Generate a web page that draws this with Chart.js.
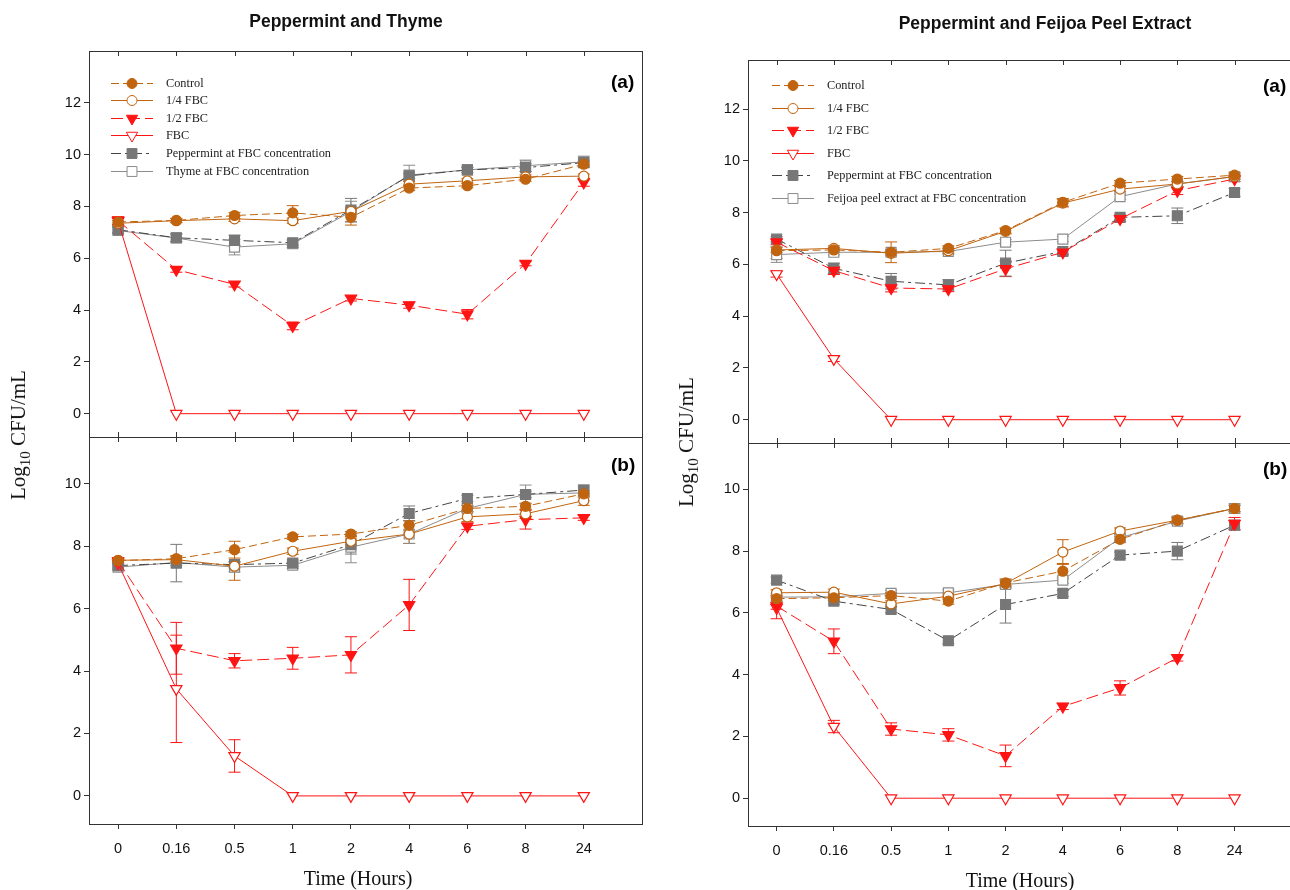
<!DOCTYPE html>
<html>
<head>
<meta charset="utf-8">
<script src="https://cdn.jsdelivr.net/npm/chart.js@4.4.0/dist/chart.umd.min.js"></script>
<style>
  html, body { margin: 0; padding: 0; background: #fff; width: 1290px; height: 890px; overflow: hidden; position: relative; }
  canvas { position: absolute; left: 0; top: 0; }
  .title { position: absolute; font: bold 17.5px "Liberation Sans", Arial, sans-serif; color: #111; white-space: nowrap; transform: translate(-50%, -50%); }
  .xtitle { position: absolute; font: 20px "Liberation Serif", serif; color: #111; white-space: nowrap; transform: translate(-50%, -50%); }
  .ytitle { position: absolute; font: 21px "Liberation Serif", serif; color: #111; white-space: nowrap; transform: translate(-50%, -50%) rotate(-90deg); }
  .ytitle sub { font-size: 15px; vertical-align: -5px; }
  .tag { position: absolute; font: bold 19px "Liberation Sans", Arial, sans-serif; color: #000; white-space: nowrap; transform: translateY(-50%); }
</style>
</head>
<body>
<canvas id="thymeA" width="1300" height="890"></canvas>
<canvas id="thymeB" width="1300" height="890"></canvas>
<canvas id="feijoaA" width="1300" height="890"></canvas>
<canvas id="feijoaB" width="1300" height="890"></canvas>

<div class="title" style="left:346px; top:21px;">Peppermint and Thyme</div>
<div class="title" style="left:1045px; top:23px;">Peppermint and Feijoa Peel Extract</div>
<div class="xtitle" style="left:358px; top:878px;">Time (Hours)</div>
<div class="xtitle" style="left:1020px; top:880px;">Time (Hours)</div>
<div class="ytitle" style="left:20px; top:435px;">Log<sub>10</sub> CFU/mL</div>
<div class="ytitle" style="left:688px; top:442px;">Log<sub>10</sub> CFU/mL</div>
<div class="tag" style="left:611px; top:82px;">(a)</div>
<div class="tag" style="left:611px; top:465px;">(b)</div>
<div class="tag" style="left:1263px; top:86px;">(a)</div>
<div class="tag" style="left:1263px; top:469px;">(b)</div>

<script>
const timeLabels = ["0", "0.16", "0.5", "1", "2", "4", "6", "8", "24"];
const yTicksTop = [0, 2, 4, 6, 8, 10, 12];
const yTicksBottom = [0, 2, 4, 6, 8, 10];

const labelsThyme = ["Control", "1/4 FBC", "1/2 FBC", "FBC", "Peppermint at FBC concentration", "Thyme at FBC concentration"];
const labelsFeijoa = ["Control", "1/4 FBC", "1/2 FBC", "FBC", "Peppermint at FBC concentration", "Feijoa peel extract at FBC concentration"];

// Peppermint and Thyme (a)
const thymeA_control = [7.40, 7.46, 7.65, 7.75, 7.58, 8.71, 8.80, 9.05, 9.63];
const thymeA_quarter = [7.35, 7.45, 7.52, 7.45, 7.81, 8.86, 8.99, 9.14, 9.17];
const thymeA_half = [7.45, 5.56, 4.99, 3.39, 4.45, 4.19, 3.84, 5.79, 8.93];
const thymeA_fbc = [7.43, 0, 0, 0, 0, 0, 0, 0, 0];
const thymeA_pep = [7.10, 6.79, 6.69, 6.60, 7.86, 9.18, 9.41, 9.50, 9.69];
const thymeA_oil = [7.07, 6.78, 6.43, 6.56, 7.80, 9.21, 9.41, 9.57, 9.72];
const thymeA_controlErr = [0.2, 0.08, 0.12, 0.28, 0.3, 0.1, 0.08, 0.08, 0.1];
const thymeA_quarterErr = [0.1, 0.08, 0.1, 0.1, 0.1, 0.1, 0.08, 0.08, 0.08];
const thymeA_halfErr = [0.15, 0.1, 0.1, 0.15, 0.1, 0.12, 0.18, 0.08, 0.15];
const thymeA_fbcErr = [0.12, 0, 0, 0, 0, 0, 0, 0, 0];
const thymeA_pepErr = [0.1, 0.15, 0.2, 0.1, 0.45, 0.1, 0.1, 0.15, 0.1];
const thymeA_oilErr = [0.12, 0.15, 0.3, 0.15, 0.4, 0.38, 0.1, 0.22, 0.22];

// Peppermint and Thyme (b)
const thymeB_control = [7.54, 7.60, 7.89, 8.30, 8.39, 8.67, 9.21, 9.28, 9.68];
const thymeB_quarter = [7.55, 7.57, 7.36, 7.84, 8.16, 8.39, 8.94, 9.04, 9.46];
const thymeB_half = [7.52, 4.73, 4.33, 4.41, 4.52, 6.12, 8.64, 8.85, 8.91];
const thymeB_fbc = [7.45, 3.43, 1.28, 0, 0, 0, 0, 0, 0];
const thymeB_pep = [7.38, 7.46, 7.41, 7.46, 8.05, 9.05, 9.53, 9.66, 9.80];
const thymeB_oil = [7.33, 7.48, 7.33, 7.39, 7.97, 8.39, 9.21, 9.66, 9.71];
const thymeB_controlErr = [0.08, 0.1, 0.27, 0.08, 0.08, 0.15, 0.1, 0.1, 0.1];
const thymeB_quarterErr = [0.08, 0.1, 0.45, 0.1, 0.1, 0.3, 0.15, 0.15, 0.15];
const thymeB_halfErr = [0.08, 0.83, 0.23, 0.35, 0.58, 0.82, 0.1, 0.3, 0.08];
const thymeB_fbcErr = [0.08, 1.72, 0.52, 0, 0, 0, 0, 0, 0];
const thymeB_pepErr = [0.08, 0.6, 0.1, 0.1, 0.3, 0.24, 0.1, 0.1, 0.1];
const thymeB_oilErr = [0.08, 0.1, 0.15, 0.1, 0.5, 0.3, 0.1, 0.3, 0.25];

// Peppermint and Feijoa Peel Extract (a)
const feijoaA_control = [6.53, 6.56, 6.47, 6.62, 7.31, 8.40, 9.14, 9.30, 9.45];
const feijoaA_quarter = [6.56, 6.62, 6.43, 6.53, 7.28, 8.37, 8.91, 9.11, 9.40];
const feijoaA_half = [6.86, 5.76, 5.09, 5.05, 5.83, 6.47, 7.76, 8.85, 9.30];
const feijoaA_fbc = [5.63, 2.35, 0, 0, 0, 0, 0, 0, 0];
const feijoaA_pep = [6.98, 5.85, 5.35, 5.21, 6.05, 6.50, 7.82, 7.88, 8.78];
const feijoaA_ext = [6.38, 6.47, 6.47, 6.50, 6.86, 6.98, 8.62, 9.11, 9.39];
const feijoaA_controlErr = [0.3, 0.1, 0.4, 0.1, 0.1, 0.15, 0.1, 0.1, 0.1];
const feijoaA_quarterErr = [0.1, 0.1, 0.1, 0.1, 0.1, 0.15, 0.1, 0.1, 0.1];
const feijoaA_halfErr = [0.1, 0.15, 0.15, 0.1, 0.3, 0.1, 0.1, 0.15, 0.1];
const feijoaA_fbcErr = [0.12, 0.1, 0, 0, 0, 0, 0, 0, 0];
const feijoaA_pepErr = [0.1, 0.2, 0.3, 0.2, 0.5, 0.1, 0.1, 0.3, 0.15];
const feijoaA_extErr = [0.3, 0.1, 0.1, 0.1, 0.1, 0.1, 0.1, 0.1, 0.1];

// Peppermint and Feijoa Peel Extract (b)
const feijoaB_control = [6.46, 6.49, 6.56, 6.38, 6.97, 7.35, 8.38, 9.00, 9.38];
const feijoaB_quarter = [6.65, 6.67, 6.29, 6.54, 6.95, 7.97, 8.65, 9.00, 9.38];
const feijoaB_half = [6.22, 5.08, 2.24, 2.05, 1.37, 2.97, 3.57, 4.54, 8.89];
const feijoaB_fbc = [6.16, 2.32, 0, 0, 0, 0, 0, 0, 0];
const feijoaB_pep = [7.06, 6.38, 6.11, 5.10, 6.27, 6.63, 7.87, 8.00, 8.84];
const feijoaB_ext = [6.51, 6.52, 6.63, 6.65, 6.92, 7.06, 8.43, 8.97, 9.38];
const feijoaB_controlErr = [0.1, 0.1, 0.1, 0.1, 0.1, 0.25, 0.1, 0.1, 0.1];
const feijoaB_quarterErr = [0.1, 0.1, 0.1, 0.1, 0.15, 0.4, 0.1, 0.1, 0.15];
const feijoaB_halfErr = [0.1, 0.4, 0.2, 0.2, 0.35, 0.1, 0.23, 0.1, 0.2];
const feijoaB_fbcErr = [0.35, 0.2, 0, 0, 0, 0, 0, 0, 0];
const feijoaB_pepErr = [0.1, 0.1, 0.1, 0.1, 0.6, 0.1, 0.1, 0.28, 0.15];
const feijoaB_extErr = [0.1, 0.1, 0.1, 0.1, 0.1, 0.1, 0.1, 0.1, 0.1];

const BROWN = "#c0640f";
const RED = "#ff1414";

// marker / line look for the six series, same order as the label lists
const seriesLook = [
  { color: BROWN, dash: [8, 4], style: "circle", radius: 5, fill: BROWN, rot: 0 },
  { color: BROWN, dash: [], style: "circle", radius: 5, fill: "#fff", rot: 0 },
  { color: RED, dash: [12, 5], style: "triangle", radius: 6.5, fill: RED, rot: 180 },
  { color: RED, dash: [], style: "triangle", radius: 6.5, fill: "#fff", rot: 180 },
  { color: "#444", dash: [10, 4, 3, 4], style: "rect", radius: 7, fill: "#777", border: "#777", rot: 0 },
  { color: "#8c8c8c", dash: [], style: "rect", radius: 7, fill: "#fff", rot: 0 }
];

function buildDatasets(labels, values, errors) {
  return values.map((vals, k) => {
    const look = seriesLook[k];
    return {
      label: labels[k],
      data: vals.map((v, i) => ({ x: i, y: v })),
      errors: errors[k],
      borderColor: look.color,
      borderWidth: 1,
      borderDash: look.dash,
      pointStyle: look.style,
      pointRadius: look.radius,
      pointRotation: look.rot,
      pointBackgroundColor: look.fill,
      pointBorderColor: look.border || look.color,
      pointBorderWidth: 1.2,
      tension: 0,
      fill: false
    };
  });
}

const frameAndTicks = {
  id: "frameAndTicks",
  afterDraw(chart) {
    const { ctx, chartArea: a } = chart;
    const xs = chart.scales.x;
    ctx.save();
    ctx.strokeStyle = "#333";
    ctx.lineWidth = 1;
    ctx.strokeRect(Math.round(a.left) + 0.5, Math.round(a.top) + 0.5, Math.round(a.right - a.left), Math.round(a.bottom - a.top));
    const bottomInward = chart.options.plugins.frameAndTicks.bottomInward;
    timeLabels.forEach((_, i) => {
      const px = Math.round(xs.getPixelForValue(i)) + 0.5;
      ctx.beginPath();
      ctx.moveTo(px, a.top);
      ctx.lineTo(px, a.top + 5);
      if (bottomInward) {
        ctx.moveTo(px, a.bottom);
        ctx.lineTo(px, a.bottom - 5);
      }
      ctx.stroke();
    });
    ctx.restore();
  }
};

const errorBars = {
  id: "errorBars",
  beforeDatasetsDraw(chart) {
    const { ctx } = chart;
    const xs = chart.scales.x, ys = chart.scales.y;
    ctx.save();
    ctx.lineWidth = 1;
    chart.data.datasets.forEach((ds) => {
      ctx.strokeStyle = ds.pointBorderColor;
      ds.data.forEach((p, i) => {
        const e = ds.errors[i];
        if (!e) return;
        const x = xs.getPixelForValue(p.x);
        const y1 = ys.getPixelForValue(p.y + e);
        const y2 = ys.getPixelForValue(p.y - e);
        ctx.beginPath();
        ctx.moveTo(x, y1); ctx.lineTo(x, y2);
        ctx.moveTo(x - 6, y1); ctx.lineTo(x + 6, y1);
        ctx.moveTo(x - 6, y2); ctx.lineTo(x + 6, y2);
        ctx.stroke();
      });
    });
    ctx.restore();
  }
};

const insideLegend = {
  id: "insideLegend",
  afterDraw(chart) {
    const opt = chart.options.plugins.insideLegend;
    if (!opt || !opt.show) return;
    const { ctx } = chart;
    ctx.save();
    chart.data.datasets.forEach((ds, k) => {
      const y = Math.round(opt.y + k * opt.gap) + 0.5;
      ctx.strokeStyle = ds.borderColor;
      ctx.lineWidth = 1;
      ctx.setLineDash(ds.borderDash);
      ctx.beginPath();
      ctx.moveTo(opt.x, y);
      ctx.lineTo(opt.x + 42, y);
      ctx.stroke();
      ctx.setLineDash([]);
      ctx.fillStyle = ds.pointBackgroundColor;
      ctx.strokeStyle = ds.pointBorderColor;
      Chart.helpers.drawPoint(ctx, {
        pointStyle: ds.pointStyle, radius: ds.pointRadius, rotation: ds.pointRotation, borderWidth: 1.2
      }, opt.x + 21, y);
      ctx.fillStyle = "#222";
      ctx.font = '12.3px "Liberation Serif", serif';
      ctx.textBaseline = "middle";
      ctx.textAlign = "left";
      ctx.fillText(ds.label, opt.x + 55, y);
    });
    ctx.restore();
  }
};

function makePanel(id, datasets, box) {
  const showX = box.showX;
  return new Chart(document.getElementById(id), {
    type: "line",
    data: { datasets },
    plugins: [errorBars, frameAndTicks, insideLegend],
    options: {
      responsive: false,
      animation: false,
      events: [],
      layout: {
        padding: {
          left: box.left - 60,
          right: 1300 - box.right,
          top: box.top,
          bottom: showX ? 890 - box.bottom - 40 : 890 - box.bottom
        }
      },
      plugins: {
        legend: { display: false },
        tooltip: { enabled: false },
        frameAndTicks: { bottomInward: !showX },
        insideLegend: box.legend || { show: false }
      },
      scales: {
        x: {
          type: "linear",
          min: -0.5,
          max: 9,
          afterBuildTicks: (s) => { s.ticks = timeLabels.map((_, i) => ({ value: i })); },
          afterFit: (s) => { s.height = showX ? 40 : 0; },
          border: { display: false },
          grid: { display: showX, drawOnChartArea: false, drawTicks: true, tickLength: 5, color: "#333" },
          ticks: {
            display: showX,
            padding: 11,
            color: "#111",
            font: { family: '"Liberation Sans", Arial, sans-serif', size: 14.5 },
            callback: (v) => timeLabels[v]
          }
        },
        y: {
          min: -0.9,
          max: box.yMax,
          afterBuildTicks: (s) => { s.ticks = box.yTicks.map((v) => ({ value: v })); },
          afterFit: (s) => { s.width = 60; },
          border: { display: false },
          grid: { drawOnChartArea: false, drawTicks: true, tickLength: 5, color: "#333" },
          ticks: {
            padding: 3,
            color: "#111",
            font: { family: '"Liberation Sans", Arial, sans-serif', size: 14.5 }
          }
        }
      }
    }
  });
}

makePanel("thymeA",
  buildDatasets(labelsThyme,
    [thymeA_control, thymeA_quarter, thymeA_half, thymeA_fbc, thymeA_pep, thymeA_oil],
    [thymeA_controlErr, thymeA_quarterErr, thymeA_halfErr, thymeA_fbcErr, thymeA_pepErr, thymeA_oilErr]),
  { left: 89, right: 642, top: 51, bottom: 437, yMax: 14, yTicks: yTicksTop, showX: false,
    legend: { show: true, x: 111, y: 82.5, gap: 17.6 } });

makePanel("thymeB",
  buildDatasets(labelsThyme,
    [thymeB_control, thymeB_quarter, thymeB_half, thymeB_fbc, thymeB_pep, thymeB_oil],
    [thymeB_controlErr, thymeB_quarterErr, thymeB_halfErr, thymeB_fbcErr, thymeB_pepErr, thymeB_oilErr]),
  { left: 89, right: 642, top: 437, bottom: 824, yMax: 11.5, yTicks: yTicksBottom, showX: true });

makePanel("feijoaA",
  buildDatasets(labelsFeijoa,
    [feijoaA_control, feijoaA_quarter, feijoaA_half, feijoaA_fbc, feijoaA_pep, feijoaA_ext],
    [feijoaA_controlErr, feijoaA_quarterErr, feijoaA_halfErr, feijoaA_fbcErr, feijoaA_pepErr, feijoaA_extErr]),
  { left: 748, right: 1294, top: 60, bottom: 443, yMax: 13.9, yTicks: yTicksTop, showX: false,
    legend: { show: true, x: 772, y: 85, gap: 22.5 } });

makePanel("feijoaB",
  buildDatasets(labelsFeijoa,
    [feijoaB_control, feijoaB_quarter, feijoaB_half, feijoaB_fbc, feijoaB_pep, feijoaB_ext],
    [feijoaB_controlErr, feijoaB_quarterErr, feijoaB_halfErr, feijoaB_fbcErr, feijoaB_pepErr, feijoaB_extErr]),
  { left: 748, right: 1294, top: 443, bottom: 826, yMax: 11.5, yTicks: yTicksBottom, showX: true });
</script>
</body>
</html>
